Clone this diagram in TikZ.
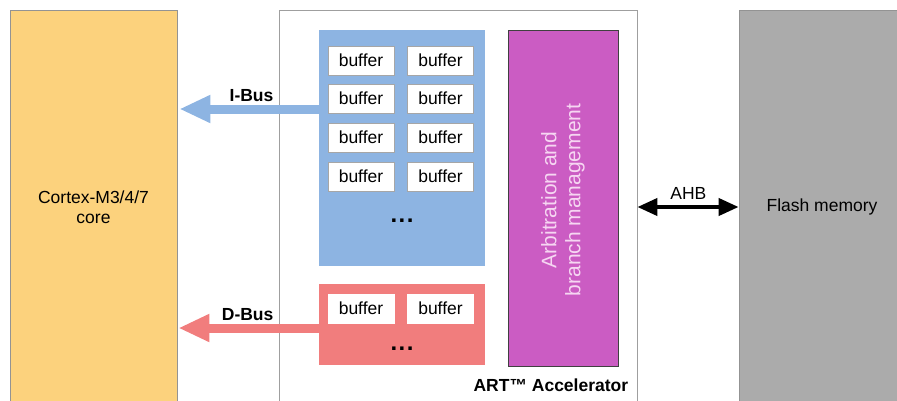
\documentclass[tikz,border=0pt]{standalone}
\usepackage{fontspec}
\setmainfont{Liberation Sans}
\usetikzlibrary{positioning,arrows.meta}
\definecolor{coreyellow}{HTML}{FCD27D}
\definecolor{ibusblue}{HTML}{8DB4E2}
\definecolor{dbusred}{HTML}{F17D7D}
\definecolor{arbpurple}{HTML}{CB5CC3}
\definecolor{arbtext}{HTML}{F6D6F2}
\definecolor{flashgray}{HTML}{ABABAB}
\begin{document}
\begin{tikzpicture}[x=1pt, y=-1pt,
        every node/.style={font=\fontsize{17.5}{20}\selectfont, inner sep=0pt},
        block/.style={rectangle, draw=gray!85, line width=0.8pt, align=center},
        bufbox/.style={rectangle, fill=white, draw=gray!70, line width=0.6pt, minimum width=66, minimum height=29},
        busdots/.style={font=\bfseries\fontsize{24}{24}\selectfont},
        buslabel/.style={font=\bfseries\fontsize{17.5}{20}\selectfont},
        ibus/.style={draw=ibusblue, line width=9pt, -{Triangle[length=31pt, width=26pt]}, shorten >=2pt},
        dbus/.style={draw=dbusred, line width=9pt, -{Triangle[length=31pt, width=26pt]}, shorten >=1pt},
        ahb/.style={draw=black, line width=4pt, {Triangle[length=20pt, width=17pt]}-{Triangle[length=20pt, width=17pt]}}
    ]
    \useasboundingbox (0,0) rectangle (897,400);
    % main blocks
    \node[block, fill=coreyellow, minimum width=167, minimum height=394] (core) at (93.5,207) {Cortex-M3/4/7\\core};
    \node[block, fill=white, draw=gray!75, minimum width=358, minimum height=394] (art) at (458,207) {};
    \node[block, fill=flashgray, minimum width=166, minimum height=394] (flash) at (822,207) {Flash memory};
    % inside the accelerator
    \node[fill=ibusblue, minimum width=166, minimum height=236] (iblock) at (402,148) {};
    \node[fill=dbusred, minimum width=166, minimum height=81] (dblock) at (402,324.5) {};
    \node[fill=arbpurple, draw=black!75, line width=0.8pt, minimum width=110, minimum height=336] (arb) at (563,198) {};
    \node[rotate=90, align=center, text=arbtext, font=\fontsize{21}{24}\selectfont] (arbtxt) at (563,200) {Arbitration and\\branch management};
    \foreach \r/\yy in {1/60.5, 2/98.5, 3/137.5, 4/176.5} {
        \node[bufbox] (bl\r) at (361,\yy) {buffer};
        \node[bufbox] (br\r) at (440.5,\yy) {buffer};
    }
    \node[bufbox, draw=white] (dl) at (361,308.5) {buffer};
    \node[bufbox, draw=white] (dr) at (440.5,308.5) {buffer};
    \node[busdots] (idots) at (402,221) {.\hspace{1.5pt}.\hspace{1.5pt}.};
    \node[busdots] (ddots) at (402,349) {.\hspace{1.5pt}.\hspace{1.5pt}.};
    \node[buslabel, above left=13pt and 9pt of art.south east] (artlbl) {ART™ Accelerator};
    % buses
    \coordinate (ibusy) at (0,109);
    \coordinate (dbusy) at (0,328);
    \draw[ibus] (iblock.west |- ibusy) -- (core.east |- ibusy);
    \draw[dbus] (dblock.west |- dbusy) -- (core.east |- dbusy);
    \draw[ahb] (art.east) -- (flash.west);
    \node[buslabel, above left=7pt and 5pt of art.west |- ibusy] (ilbl) {I-Bus};
    \node[buslabel, above left=7pt and 5pt of art.west |- dbusy] (dlbl) {D-Bus};
    \node[above=7pt of art.east -| arb.east, xshift=70pt] (ahblbl) {AHB};
\end{tikzpicture}
\end{document}
